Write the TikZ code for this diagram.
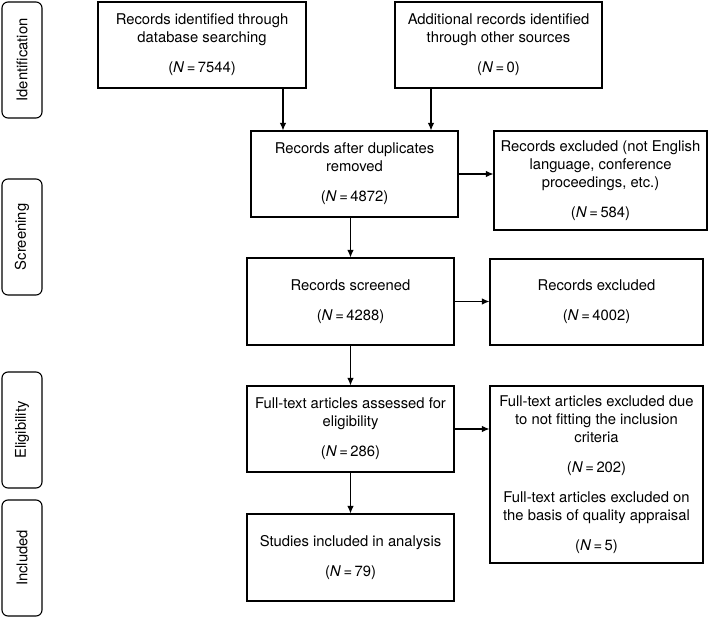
\documentclass[tikz,border=0pt]{standalone}
\usepackage{fontspec}
\setmainfont{TeX Gyre Heros}
\usetikzlibrary{arrows.meta}
\newcommand{\ncount}[1]{(\textit{N}\,=\,#1)}

\begin{document}
\begin{tikzpicture}[x=1pt,y=-1pt,
    box/.style   = {draw, line width=1.1pt, align=center, inner sep=2pt,
                    font=\fontsize{14.8}{18}\selectfont},
    stage/.style = {draw, line width=1.1pt, rounded corners=6pt, rotate=90,
                    minimum width=116pt, minimum height=40pt,
                    font=\fontsize{14.8}{18}\selectfont},
    arr/.style   = {-{Latex[length=7.5pt,width=6.5pt]}, line width=1.1pt}]
            \useasboundingbox (0,0) rectangle (709,618);
            % stages on the left
            \node[stage] (sIdent)  at ( 22, 60.0) {Identification};
            \node[stage] (sScreen) at ( 22,237.0) {Screening};
            \node[stage] (sElig)   at ( 22,430.0) {Eligibility};
            \node[stage] (sIncl)   at ( 22,558.0) {Included};
            % flow boxes
            \node[box, minimum width=208pt, minimum height=86pt] (dbase)    at (202.0, 45.0) {Records identified through\\database searching\\[12pt]\ncount{7544}};
            \node[box, minimum width=207pt, minimum height=86pt] (other)    at (498.5, 45.0) {Additional records identified\\through other sources\\[12pt]\ncount{0}};
            \node[box, minimum width=207pt, minimum height=86pt] (dedup)    at (354.5,174.0) {Records after duplicates\\removed\\[12pt]\ncount{4872}};
            \node[box, minimum width=213pt, minimum height=99pt] (exclA)    at (600.5,180.5) {Records excluded (not English\\language, conference\\proceedings, etc.)\\[12pt]\ncount{584}};
            \node[box, minimum width=207pt, minimum height=87pt] (screened) at (350.5,301.5) {Records screened\\[12pt]\ncount{4288}};
            \node[box, minimum width=213pt, minimum height=86pt] (exclB)    at (596.5,302.0) {Records excluded\\[12pt]\ncount{4002}};
            \node[box, minimum width=207pt, minimum height=86pt] (fulltext) at (350.5,429.0) {Full-text articles assessed for\\eligibility\\[12pt]\ncount{286}};
            \node[box, minimum width=213pt, minimum height=177pt] (exclC)   at (596.5,474.5) {Full-text articles excluded due\\to not fitting the inclusion\\criteria\\[12pt]\ncount{202}\\[12pt]Full-text articles excluded on\\the basis of quality appraisal\\[12pt]\ncount{5}};
            \node[box, minimum width=207pt, minimum height=87pt] (included) at (350.5,557.5) {Studies included in analysis\\[12pt]\ncount{79}};
            % connectors
            \draw[arr] ([xshift=81pt]dbase.south)  -- ([xshift=81pt]dbase.south |- dedup.north);
            \draw[arr] ([xshift=-67.5pt]other.south) -- ([xshift=-67.5pt]other.south |- dedup.north);
            \draw[arr] (dedup.south -| screened.north) -- (screened.north);
            \draw[arr] (dedup.east)    -- (dedup.east -| exclA.west);
            \draw[arr] (screened.east) -- (screened.east -| exclB.west);
            \draw[arr] (screened.south) -- (fulltext.north);
            \draw[arr] (fulltext.east) -- (fulltext.east -| exclC.west);
            \draw[arr] (fulltext.south) -- (included.north);
        \end{tikzpicture}
\end{document}
